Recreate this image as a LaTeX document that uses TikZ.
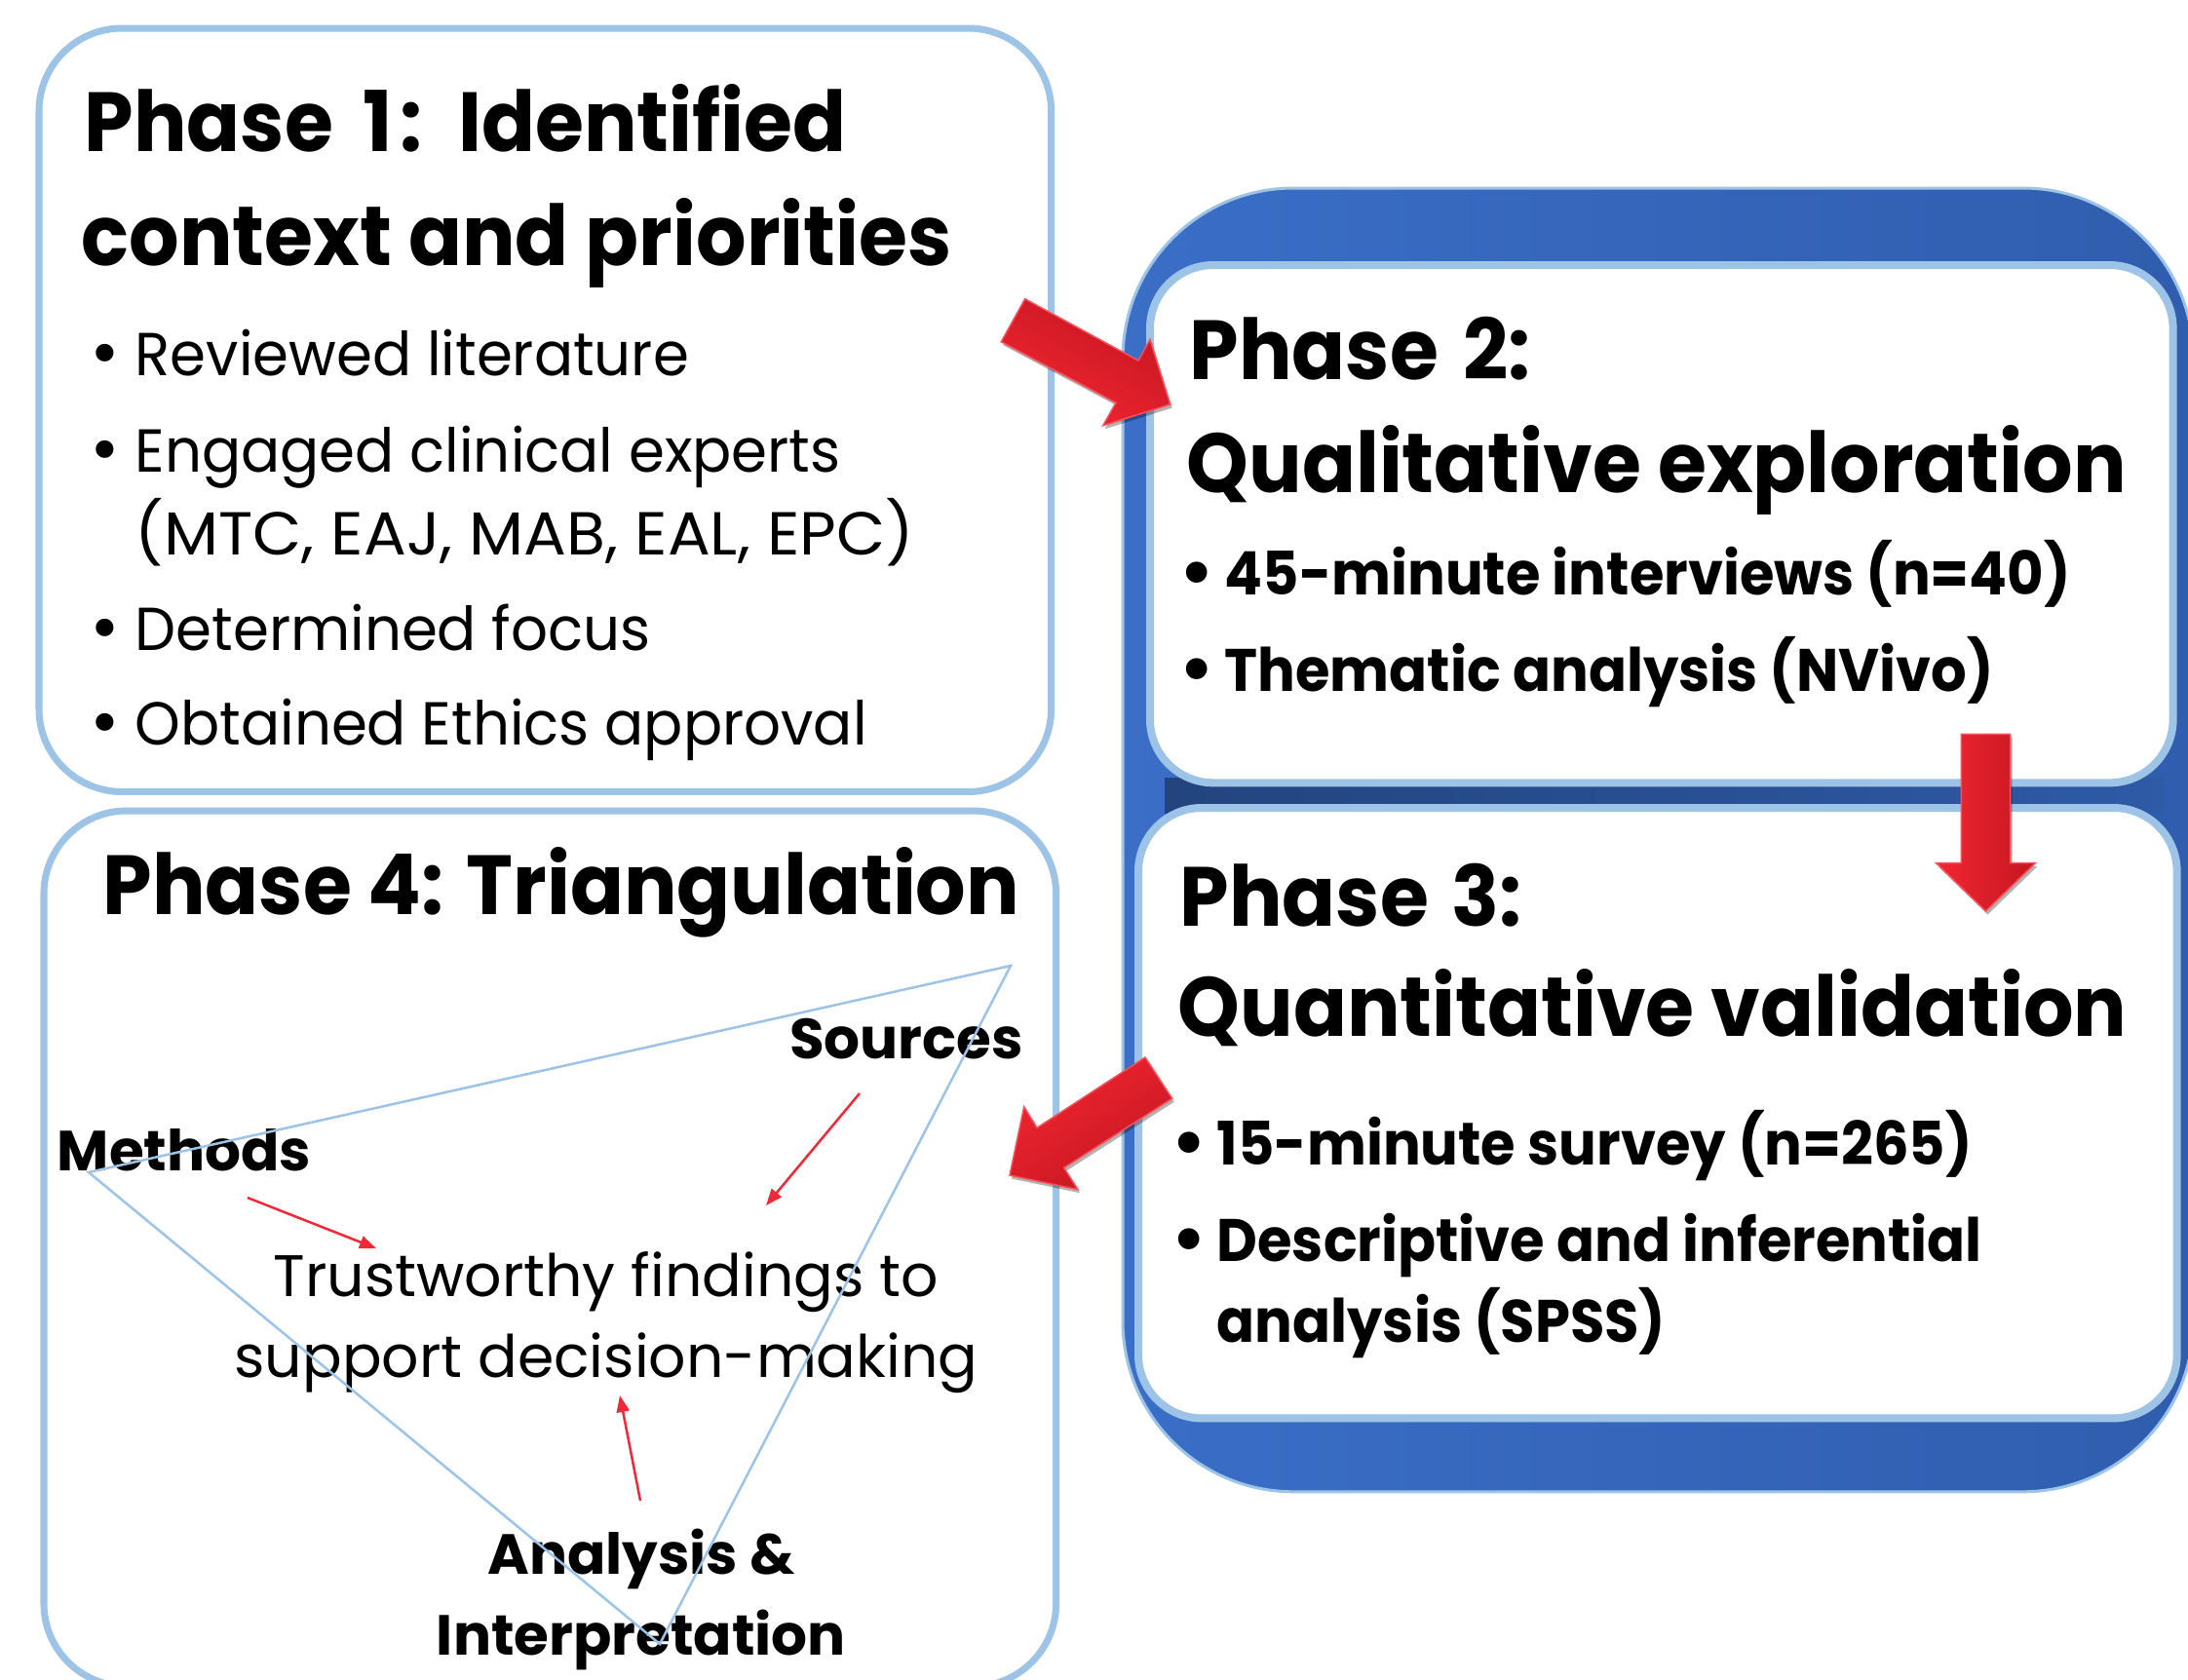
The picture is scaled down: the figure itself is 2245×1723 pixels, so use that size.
\documentclass[tikz,border=0pt]{standalone}
\usepackage{fontspec}
\setmainfont{Poppins}
\newfontfamily\titlefam{Poppins}[FakeStretch=0.94]
\newfontfamily\itemfam{Poppins}[FakeStretch=0.955]
\newfontfamily\capsfam{Poppins}[FakeStretch=1.045]
\newfontfamily\bitemfam{Poppins}[FakeStretch=0.935]
\newfontfamily\bulletfam{DejaVu Sans}
\newcommand\bul{{\bulletfam •}}
\usetikzlibrary{arrows.meta,shadows}

\definecolor{boxline}{RGB}{157,195,230}
\definecolor{blueA}{RGB}{58,110,199}
\definecolor{blueB}{RGB}{48,93,174}
\definecolor{gapA}{RGB}{35,68,126}
\definecolor{gapB}{RGB}{46,90,166}
\definecolor{arrowlight}{RGB}{242,38,50}
\definecolor{arrowmid}{RGB}{230,31,42}
\definecolor{arrowdark}{RGB}{196,22,32}
\definecolor{arrowedge}{RGB}{250,82,92}
\definecolor{thinred}{RGB}{240,40,55}

\begin{document}
\begin{tikzpicture}[x=0.01cm, y=-0.01cm,
  phasebox/.style={draw=boxline, fill=white, outer sep=0pt, inner sep=0pt, anchor=north west},
  titletext/.style={font=\titlefam\fontsize{24.5}{29}\selectfont\bfseries, inner sep=0pt, anchor=base west},
  itemtext/.style={font=\itemfam\fontsize{17.7}{21}\selectfont, inner sep=0pt, anchor=base west},
  bolditem/.style={font=\bitemfam\fontsize{17.5}{21}\selectfont\bfseries, inner sep=0pt, anchor=base west},
  cornerlabel/.style={font=\fontsize{16.5}{20}\selectfont\bfseries, inner sep=0pt, anchor=base},
  centretext/.style={font=\fontsize{17.1}{20}\selectfont, inner sep=0pt, anchor=base},
  blockarrow/.style={draw=arrowedge, line width=0.015cm, line join=miter,
    drop shadow={shadow xshift=0.02cm, shadow yshift=-0.035cm, opacity=0.3, fill=black}},
  thinarrow/.style={draw=thinred, line width=0.025cm, -{Triangle[length=0.17cm, width=0.13cm]}},
  triline/.style={draw=boxline, line width=0.025cm, line join=miter}
]
\useasboundingbox (0,0) rectangle (2245,1723);
\clip (0,0) rectangle (2245,1723);
\fill[white] (0,0) rectangle (2245,1723);

% blue frame holding phases 2 and 3
\node[draw=boxline, line width=0.03cm, rounded corners=1.75cm, outer sep=0pt, inner sep=0pt,
      anchor=north west, minimum width=10.98cm, minimum height=13.37cm,
      left color=blueA, right color=blueB] (frame) at (1152,193) {};
\shade[left color=gapA, right color=gapB] (1195,798) rectangle (2220,834);

% phase boxes
\node[phasebox, line width=0.07cm, rounded corners=0.85cm, minimum width=10.38cm, minimum height=7.83cm] (p1) at (40,29) {};
\node[phasebox, line width=0.08cm, rounded corners=0.65cm, minimum width=10.49cm, minimum height=5.31cm] (p2) at (1180,272) {};
\node[phasebox, line width=0.08cm, rounded corners=0.65cm, minimum width=10.65cm, minimum height=6.26cm] (p3) at (1168,829) {};
\node[phasebox, line width=0.07cm, rounded corners=0.85cm, minimum width=10.38cm, minimum height=8.98cm] (p4) at (45,832) {};

% phase 1
\node[titletext] (p1a) at (86,155) {Phase\hspace{0.14cm} 1\hspace{0.07cm}:\hspace{0.14cm} Identified};
\node[titletext] (p1b) at (83,272) {context and priorities};
\node[itemtext] (p1i1) at (138,385) {\llap{\bul\hspace{0.12cm}}Reviewed literature};
\node[itemtext] (p1i2) at (138,484) {\llap{\bul\hspace{0.12cm}}Engaged clinical experts};
\node[itemtext, font=\capsfam\fontsize{17.7}{21}\selectfont] (p1i3) at (138,569) {(MTC, EAJ, MAB, EAL, EPC)};
\node[itemtext] (p1i4) at (138,667) {\llap{\bul\hspace{0.12cm}}Determined focus};
\node[itemtext] (p1i5) at (138,764) {\llap{\bul\hspace{0.12cm}}Obtained Ethics approval};

% phase 2
\node[titletext] (p2a) at (1220,389) {Phase\hspace{0.08cm} 2:};
\node[titletext] (p2b) at (1217,505) {Qualitative exploration};
\node[bolditem] (p2i1) at (1256,610) {\llap{\bul\hspace{0.09cm}}45-minute interviews (n=40)};
\node[bolditem] (p2i2) at (1256,709) {\llap{\bul\hspace{0.09cm}}Thematic analysis (NVivo)};

% phase 3
\node[titletext] (p3a) at (1210,950) {Phase\hspace{0.06cm} 3:};
\node[titletext] (p3b) at (1208,1063) {Quantitative validation};
\node[bolditem] (p3i1) at (1248,1195) {\llap{\bul\hspace{0.09cm}}15-minute survey (n=265)};
\node[bolditem] (p3i2) at (1248,1294) {\llap{\bul\hspace{0.09cm}}Descriptive and inferential};
\node[bolditem] (p3i3) at (1248,1377) {analysis (SPSS)};

% phase 4
\node[titletext] (p4a) at (105,938) {Phase 4: Triangulation};
\node[cornerlabel] (src) at (930,1086) {Sources};
\node[cornerlabel] (mth) at (189,1201) {Methods};
\node[centretext] (fnd1) at (622,1330) {Trustworthy findings to};
\node[centretext] (fnd2) at (622,1413) {support decision-making};
\node[cornerlabel] (ana1) at (658,1615) {Analysis \&};
\node[cornerlabel] (ana2) at (658,1698) {Interpretation};

% triangle of the three perspectives
\coordinate (tm) at (91,1203);
\coordinate (ts) at (1037,991);
\coordinate (ta) at (677,1687);
\draw[triline] (tm) -- (ts) -- (ta) -- cycle;

% pointers towards the findings
\coordinate (m0) at (254,1229);  \coordinate (m1) at (386,1281);
\coordinate (s0) at (882,1122);  \coordinate (s1) at (786,1237);
\coordinate (a0) at (657,1540);  \coordinate (a1) at (636,1432);
\draw[thinarrow] (m0) -- (m1);
\draw[thinarrow] (s0) -- (s1);
\draw[thinarrow] (a0) -- (a1);

% block arrows between phases
\shade[blockarrow, top color=arrowdark, middle color=arrowmid, bottom color=arrowlight, shading angle=-28.2]
  (1051.7,306.7) -- (1168,370) -- (1180,348.3) -- (1200.7,415) -- (1131.7,436.7)
  -- (1145,413.3) -- (1027.3,350.7) -- cycle;
\shade[blockarrow, top color=arrowdark, middle color=arrowmid, bottom color=arrowlight, shading angle=-90]
  (2012.3,753.3) -- (2012.3,885.7) -- (1986.7,885.7) -- (2037.5,935) -- (2088.3,885.7)
  -- (2062.7,885.7) -- (2062.7,753.3) -- cycle;
\shade[blockarrow, top color=arrowdark, middle color=arrowmid, bottom color=arrowlight, shading angle=-146.9]
  (1175,1085) -- (1064,1157.3) -- (1050.7,1135.7) -- (1036,1206) -- (1106,1220.7)
  -- (1091.7,1198.3) -- (1202.7,1127.3) -- cycle;
\end{tikzpicture}
\end{document}
